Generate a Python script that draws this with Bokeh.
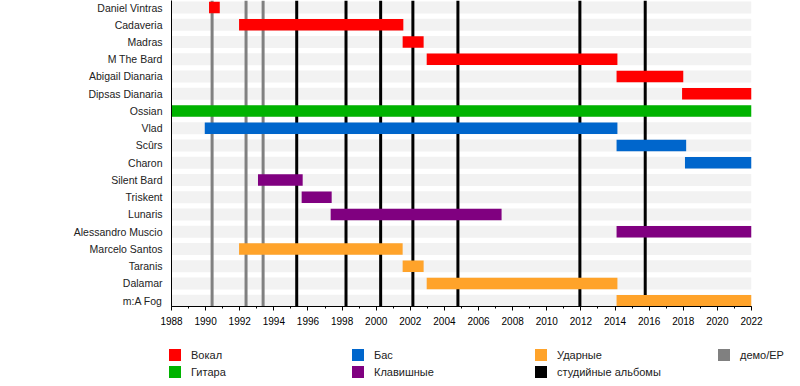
from bokeh.plotting import figure
from bokeh.models import Range1d, FixedTicker, SingleIntervalTicker, Legend, LegendItem
from bokeh.embed import file_html
from bokeh.resources import INLINE

# ---- data ----
members = ["Daniel Vintras", "Cadaveria", "Madras", "M The Bard", "Abigail Dianaria",
           "Dipsas Dianaria", "Ossian", "Vlad", "Scûrs", "Charon", "Silent Bard",
           "Triskent", "Lunaris", "Alessandro Muscio", "Marcelo Santos", "Taranis",
           "Dalamar", "m:A Fog"]
starts = [1990.2, 1991.96, 2001.55, 2002.96, 2014.09, 2017.93, 1988.0, 1989.95, 2014.09,
          2018.1, 1993.07, 1995.63, 1997.33, 2014.09, 1991.96, 2001.55, 2002.96, 2014.09]
ends = [1990.83, 2001.59, 2002.78, 2014.14, 2018.0, 2022.0, 2022.0, 2014.14, 2018.17,
        2022.0, 1995.69, 1997.39, 2007.35, 2022.0, 2001.55, 2002.78, 2014.14, 2022.0]
roles = [0, 0, 0, 0, 0, 0, 1, 2, 2, 2, 3, 3, 3, 3, 4, 4, 4, 4]
role_names = ["Вокал", "Гитара", "Бас", "Клавишные", "Ударные"]
role_colors = ["#ff0000", "#00b300", "#0066cc", "#800080", "#ffa32a"]
album_years = [1995.34, 1998.23, 2000.26, 2002.15, 2004.79, 2011.94, 2015.77]
album_label = "студийные альбомы"
album_color = "#000000"
demo_years = [1990.38, 1992.37, 1993.37]
demo_label = "демо/EP"
demo_color = "#808080"
year_first, year_last = 1988, 2022

FONT = "Liberation Sans"
n = len(members)
rows = list(range(n))
y_bottom, y_top = n - 1 + 0.336, -0.406


def draw_timeline(fig):
    """Draw stripes, album/demo lines and member bars; return legend renderers."""
    fig.quad(left=[year_first] * n, right=[year_last] * n,
             top=[r - 0.35 for r in rows], bottom=[r + 0.35 for r in rows],
             fill_color="#f2f2f2", line_color=None)
    mid = (y_bottom + y_top) / 2
    span = abs(y_bottom - y_top)
    album_r = fig.rect(x=album_years, y=[mid] * len(album_years), width=3,
                       width_units="screen", height=span,
                       fill_color=album_color, line_color=None)
    demo_r = fig.rect(x=demo_years, y=[mid] * len(demo_years), width=3,
                      width_units="screen", height=span,
                      fill_color=demo_color, line_color=None)
    role_rs = []
    for k, color in enumerate(role_colors):
        ys = [i for i in rows if roles[i] == k]
        role_rs.append(fig.hbar(y=ys, left=[starts[i] for i in ys],
                                right=[ends[i] for i in ys], height=0.667,
                                fill_color=color, line_color=None))
    return role_rs + [album_r, demo_r]


# ---- main chart ----
p = figure(width=800, height=340,
           x_range=Range1d(year_first, year_last),
           y_range=Range1d(y_bottom, y_top),
           output_backend="svg", toolbar_location=None,
           min_border_left=171, min_border_right=49,
           min_border_top=0, min_border_bottom=34)
p.outline_line_color = None
p.grid.visible = False
draw_timeline(p)

xa = p.xaxis[0]
xa.ticker = SingleIntervalTicker(interval=2, num_minor_ticks=2)
xa.axis_line_color = "#000000"
xa.major_tick_line_color = "#000000"
xa.minor_tick_line_color = "#000000"
xa.major_tick_in = 0
xa.major_tick_out = 4
xa.minor_tick_in = 0
xa.minor_tick_out = 2
xa.major_label_standoff = 6
xa.major_label_text_font = FONT
xa.major_label_text_font_size = "10px"
xa.major_label_text_color = "#000000"

ya = p.yaxis[0]
ya.ticker = FixedTicker(ticks=rows)
ya.major_label_overrides = {i: m for i, m in enumerate(members)}
ya.axis_line_color = "#000000"
ya.major_tick_line_color = None
ya.minor_tick_line_color = None
ya.major_tick_in = 0
ya.major_tick_out = 0
ya.major_label_standoff = 9
ya.major_label_text_font = FONT
ya.major_label_text_font_size = "10.5px"
ya.major_label_text_color = "#222222"

# ---- legend strip (separate root, full-width frame) ----
lg = figure(width=800, height=46, x_range=Range1d(0, 1), y_range=Range1d(0, 1),
            x_axis_type=None, y_axis_type=None,
            output_backend="svg", toolbar_location=None,
            min_border_left=0, min_border_right=0, min_border_top=0, min_border_bottom=0)
lg.outline_line_color = None
lg.grid.visible = False
legend_rs = draw_timeline(lg)  # same marks, outside this strip's view; used for legend swatches

legend_labels = role_names + [album_label, demo_label]
items = [LegendItem(label=lab, renderers=[r]) for lab, r in zip(legend_labels, legend_rs)]
legend = Legend(items=items, location=(167, 7), orientation="vertical", nrows=2,
                glyph_width=15, glyph_height=15, label_height=15, label_width=157,
                label_standoff=9, spacing=2, padding=0, margin=0,
                border_line_color=None, background_fill_alpha=0,
                label_text_font=FONT, label_text_font_size="11px",
                label_text_color="#222222")
lg.add_layout(legend, "center")

open("out.html", "w").write(file_html([p, lg], INLINE))
